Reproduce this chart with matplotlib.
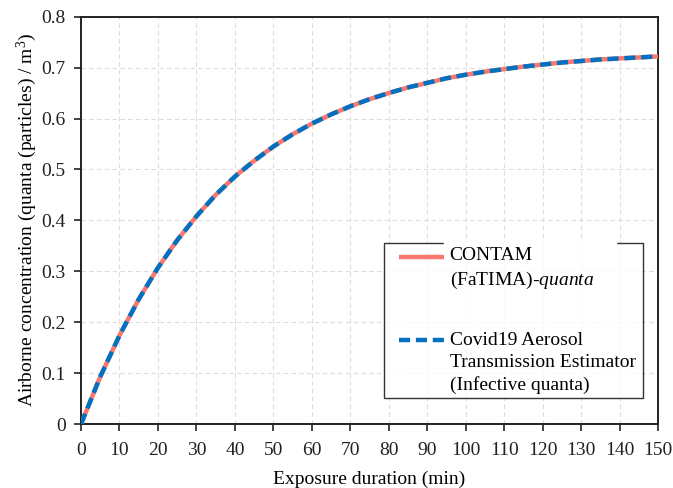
import matplotlib
matplotlib.use("Agg")
import numpy as np
import matplotlib.pyplot as plt
from matplotlib.ticker import MultipleLocator, FuncFormatter
from matplotlib.legend_handler import HandlerLine2D
from matplotlib.lines import Line2D

plt.rcParams['font.family'] = ['Liberation Serif', 'DejaVu Serif']
plt.rcParams['mathtext.fontset'] = 'custom'
plt.rcParams['mathtext.rm'] = 'Liberation Serif'
plt.rcParams['mathtext.it'] = 'Liberation Serif:italic'

minutes = [0, 5, 10, 15, 20, 25, 30, 35, 40, 45, 50, 55, 60, 65, 70, 75,
           80, 85, 90, 95, 100, 105, 110, 115, 120, 125, 130, 135, 140, 145, 150]
contam = [0.0, 0.093, 0.174, 0.245, 0.307, 0.361, 0.408, 0.450, 0.486, 0.517,
          0.545, 0.569, 0.590, 0.608, 0.624, 0.638, 0.650, 0.661, 0.670, 0.679,
          0.686, 0.692, 0.697, 0.702, 0.706, 0.710, 0.713, 0.716, 0.718, 0.720, 0.722]
estimator = [0.0, 0.093, 0.174, 0.245, 0.307, 0.361, 0.408, 0.450, 0.486, 0.517,
             0.545, 0.569, 0.590, 0.608, 0.624, 0.638, 0.650, 0.661, 0.670, 0.679,
             0.686, 0.692, 0.697, 0.702, 0.706, 0.710, 0.713, 0.716, 0.718, 0.720, 0.722]
labels = ['CONTAM\n(FaTIMA)-$\\mathit{quanta}$',
          'Covid19 Aerosol\nTransmission Estimator\n(Infective quanta)']

LINESP = 1.38
LINE_PT = 16.5   # approx. distance between text lines, points
X_INDENT = 8.0   # handle indent inside legend, points


class TopAlignedHandler(HandlerLine2D):
    """Place the legend handle next to the first line of a multi-line label."""
    def __init__(self, nlines, line_pt, x_indent, **kw):
        super().__init__(**kw)
        self.shift = (nlines - 1) / 2.0 * line_pt
        self.x_indent = x_indent

    def create_artists(self, legend, orig_handle, xdescent, ydescent, width, height,
                       fontsize, trans):
        arts = super().create_artists(legend, orig_handle, xdescent, ydescent,
                                      width, height, fontsize, trans)
        for a in arts:
            a.set_ydata(np.asarray(a.get_ydata(), dtype=float) + self.shift)
            xd = np.asarray(a.get_xdata(), dtype=float)
            a.set_xdata(np.linspace(xd[0] + self.x_indent, xd[-1], len(xd)))
        return arts


fig = plt.figure(figsize=(6.73, 4.88), dpi=100)
ax = fig.add_axes([0.1204, 0.1311, 0.8573, 0.8347])

l1, = ax.plot(minutes, contam, color='#FA776E', lw=3.2, solid_capstyle='butt', label=labels[0], zorder=3)
l2, = ax.plot(minutes, estimator, color='#0070C0', lw=3.2, ls=(0, (2.5, 1.3)), label=labels[1], zorder=4)

ax.set_xlim(0, 150)
ax.set_ylim(0, 0.8)
ax.xaxis.set_major_locator(MultipleLocator(10))
ax.yaxis.set_major_locator(MultipleLocator(0.1))
ax.yaxis.set_major_formatter(FuncFormatter(lambda v, p: '0' if abs(v) < 1e-9 else f'{v:.1f}'))
ax.grid(True, color='#DDDDDD', ls=(0, (4, 3)), lw=0.8)
ax.set_axisbelow(True)

for s in ax.spines.values():
    s.set_linewidth(1.4)
    s.set_color('#222222')
ax.tick_params(direction='out', length=5, width=1.2, labelsize=14, colors='#222222')
ax.tick_params(axis='y', pad=6)
ax.tick_params(axis='x', pad=8)

ax.set_xlabel('Exposure duration (min)', fontsize=14, labelpad=8)
ax.set_ylabel('Airborne concentration (quanta (particles) / m$^3$)', fontsize=14, labelpad=2)

leg = ax.legend(handles=[l1, l2], loc='lower left', bbox_to_anchor=(0.525, 0.064, 0.449, 0.38),
                mode='expand', fontsize=14, labelspacing=2.1, handlelength=2.88, handletextpad=0.3,
                fancybox=False, frameon=True, borderaxespad=0, borderpad=0.2,
                handler_map={l1: TopAlignedHandler(2, LINE_PT, X_INDENT),
                             l2: TopAlignedHandler(3, LINE_PT, X_INDENT)})
leg.get_frame().set_edgecolor('black')
leg.get_frame().set_linewidth(1.0)
for t in leg.get_texts():
    t.set_linespacing(LINESP)

# gap in the legend's top border, as in the reference
fig.add_artist(Line2D([445 / 673, 615 / 673], [1 - 243 / 488] * 2, color='white', lw=2.5, zorder=10))

fig.savefig('out.png', dpi=100)
